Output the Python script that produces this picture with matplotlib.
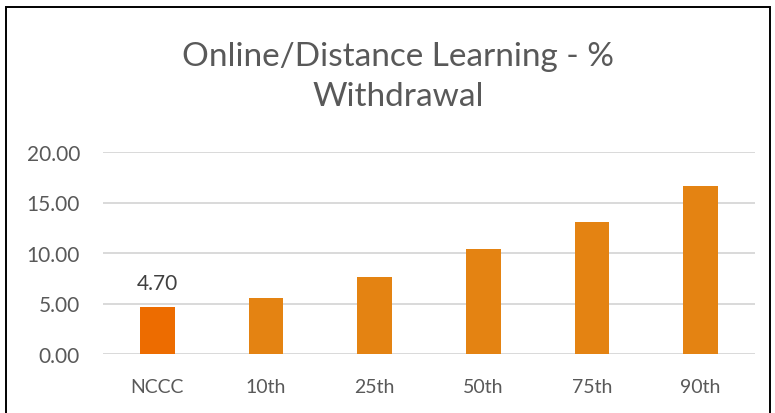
import matplotlib
matplotlib.use("Agg")
import matplotlib.pyplot as plt
from matplotlib.patches import Rectangle

categories = ["NCCC", "10th", "25th", "50th", "75th", "90th"]
values = [4.70, 5.50, 7.59, 10.38, 13.06, 16.63]
bar_colors = ["#ED6C00", "#E48312", "#E48312", "#E48312", "#E48312", "#E48312"]
yticks = [0, 5, 10, 15, 20]
title = "Online/Distance Learning - %\nWithdrawal"

plt.rcParams['font.family'] = ['Lato', 'DejaVu Sans']
grey = "#595959"

fig = plt.figure(figsize=(7.75, 4.14), dpi=100)
W, H = 775, 414
ax = fig.add_axes([103 / W, 1 - 355 / H, (755 - 103) / W, (355 - 153) / H])

x = range(len(categories))
ax.bar(x, values, width=0.32, color=bar_colors, zorder=3)
ax.set_xlim(-0.5, len(categories) - 0.5)
ax.set_ylim(0, 20)
ax.set_yticks(yticks)
ax.set_yticklabels([f"{v:.2f}" for v in yticks], fontsize=15, color=grey)
ax.set_xticks(list(x))
ax.set_xticklabels(categories, fontsize=14, color=grey)
ax.tick_params(axis='both', length=0)
ax.tick_params(axis='y', pad=16.5)
ax.tick_params(axis='x', pad=17)
ax.grid(axis='y', color="#D9D9D9", linewidth=1.4, zorder=0)
for s in ax.spines.values():
    s.set_visible(False)

ax.text(0, values[0] + 1.73, f"{values[0]:.2f}", ha='center', va='baseline', fontsize=15, color="#404040")

fig.text(398 / W, 1 - 77 / H, title, ha='center', va='center', fontsize=24, color=grey, linespacing=1.45)

fig.patches.append(Rectangle((6 / W, -0.1), (770 - 6) / W, 1.1 - 8 / H, transform=fig.transFigure,
                             fill=False, edgecolor='black', linewidth=1.4))

fig.savefig("out.png", dpi=100)
